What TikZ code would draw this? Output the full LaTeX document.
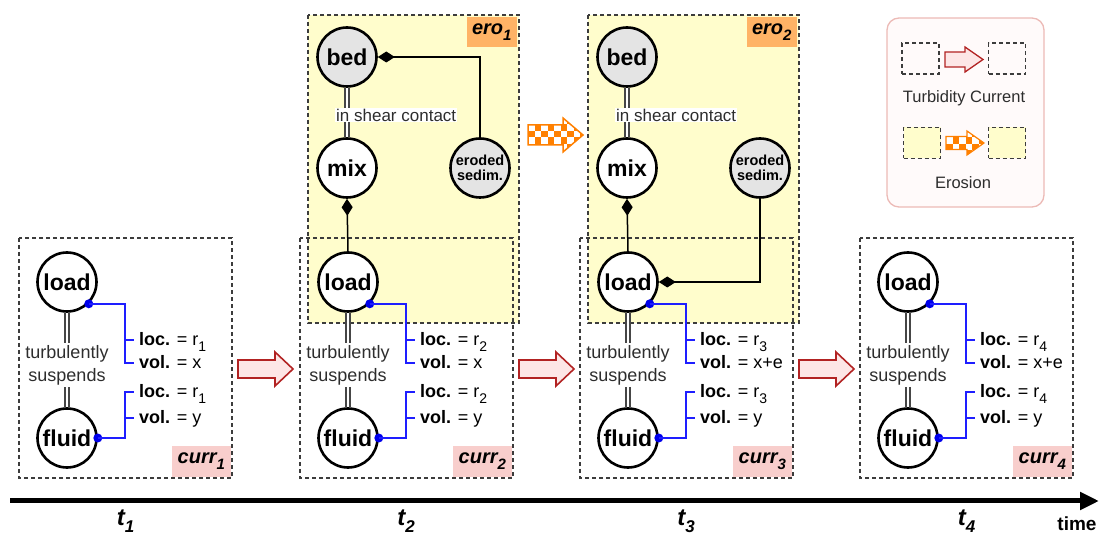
\documentclass[tikz,border=0pt]{standalone}
\usepackage{fontspec}
\setmainfont{Liberation Sans}
\usetikzlibrary{arrows.meta,calc}

\definecolor{erofill}{RGB}{255,253,204}
\definecolor{nodegray}{RGB}{228,228,228}
\definecolor{framegray}{RGB}{60,60,60}
\definecolor{dblgray}{RGB}{70,70,70}
\definecolor{txtgray}{RGB}{45,45,45}
\definecolor{attrblue}{RGB}{30,30,255}
\definecolor{dotblue}{RGB}{0,0,235}
\definecolor{currpink}{RGB}{248,206,204}
\definecolor{eroorange}{RGB}{255,179,102}
\definecolor{arrowred}{RGB}{178,34,34}
\definecolor{arrowpink}{RGB}{253,230,230}
\definecolor{chkorange}{RGB}{255,128,0}
\definecolor{legline}{RGB}{236,186,182}
\definecolor{legfill}{RGB}{255,250,250}

\newcommand\fs[2]{\fontsize{#1}{#2}\selectfont}
\newcommand\sbx[2]{\raisebox{-0.28em}{\fontsize{#1}{#1}\selectfont #2}}
% checkerboard filling for the erosion arrows
\newcommand\checkers{%
  \foreach \ci in {0,...,12}{\foreach \cj in {0,...,7}{%
    \pgfmathtruncatemacro\cpar{mod(\ci+\cj,2)}%
    \ifnum\cpar=0
      \fill[chkorange] ($(path picture bounding box.north west)+(\ci*6.5,\cj*6.5)$) rectangle ++(6.5,6.5);
    \fi}}}

\begin{document}
\begin{tikzpicture}[x=1pt,y=-1pt,
  every node/.style={inner sep=0pt},
  obj/.style={circle, draw=black, line width=2.6pt, minimum size=59pt, fill=white,
              font=\bfseries\fs{23}{24}},
  objg/.style={obj, fill=nodegray},
  sedim/.style={objg, align=center, font=\bfseries\fs{14.5}{15}},
  dbl/.style={draw=dblgray, line width=1.8pt, double=white, double distance=2.5pt},
  rel/.style={font=\fs{18}{23}, text=txtgray, align=center, inner sep=2pt},
  attr/.style={anchor=base west, font=\fs{18}{20}},
  bl/.style={draw=attrblue, line width=1.5pt},
  dot/.style={circle, fill=dotblue, minimum size=9pt},
  frame/.style={draw=framegray, line width=1.4pt, dash pattern=on 4pt off 3pt},
  comp/.style={draw=black, line width=1.5pt},
  currtag/.style={fill=currpink, minimum width=59pt, minimum height=31pt,
                  font=\bfseries\itshape\fs{20}{20}},
  erotag/.style={fill=eroorange, minimum width=50pt, minimum height=30pt,
                 font=\bfseries\itshape\fs{20}{20}},
  redarrow/.style={draw=arrowred, fill=arrowpink, line width=1.6pt, line join=miter},
  chkarrow/.style={draw=chkorange, fill=white, line width=1.5pt, line join=miter,
                   path picture={\checkers}},
  lgbox/.style={frame, minimum width=37pt, minimum height=31pt},
  tlab/.style={font=\bfseries\itshape\fs{24}{24}},
  diam/.style={{Diamond[length=17pt,width=11pt]}-},
  diamend/.style={-{Diamond[length=17pt,width=11pt]}}
]
\useasboundingbox (0,0) rectangle (1101,534);

% erosion areas (yellow background)
\foreach \k/\ex in {1/308,2/588}{
  \fill[erofill] (\ex,15) rectangle ({\ex+211},323);
}

% turbidity current frames
\foreach \i/\bx in {1/19,2/300,3/580,4/860}{
  \node[currtag, anchor=south east] (ct\i) at ({\bx+212},477) {curr\sbx{15}{\i}};
  \draw[frame] (\bx,238) rectangle ({\bx+213},478);
}

% erosion frames
\foreach \k/\ex in {1/308,2/588}{
  \node[erotag, anchor=north east] (et\k) at ({\ex+209},17) {ero\sbx{15}{\k}};
  \draw[frame] (\ex,15) rectangle ({\ex+211},323);
}

% contents of each turbidity current
\foreach \i/\bx/\vv in {1/19/x,2/300/x,3/580/x+e,4/860/x+e}{
  \node[obj] (load\i) at ({\bx+48},282) {load};
  \node[obj] (fluid\i) at ({\bx+48},438) {fluid};
  \node[rel] (ts\i) at ({\bx+48},365) {turbulently\\suspends};
  \draw[dbl] (load\i) -- (ts\i);
  \draw[dbl] (ts\i) -- (fluid\i);
  % load attributes
  \node[dot] (ld\i) at (load\i.-45) {};
  \coordinate (lb\i) at ({\bx+106},363);
  \draw[bl] (ld\i.center) -| (lb\i) -- ++(9,0);
  \draw[bl] ({\bx+106},340) -- ++(9,0);
  \node[attr] (ll\i) at ({\bx+120},346) {\textbf{loc.} = r\sbx{14}{\i}};
  \node[attr] (lv\i) at ({\bx+120},369) {\textbf{vol.} = \vv};
  % fluid attributes
  \node[dot] (fd\i) at (fluid\i.east) {};
  \coordinate (fb\i) at ({\bx+106},392);
  \draw[bl] (fd\i.center) -| (fb\i) -- ++(9,0);
  \draw[bl] ({\bx+106},418) -- ++(9,0);
  \node[attr] (fl\i) at ({\bx+120},398) {\textbf{loc.} = r\sbx{14}{\i}};
  \node[attr] (fv\i) at ({\bx+120},424) {\textbf{vol.} = y};
}

% contents of each erosion
\foreach \k/\ex in {1/308,2/588}{
  \node[objg] (bed\k) at ({\ex+39},57) {bed};
  \node[obj] (mix\k) at ({\ex+39},168) {mix};
  \node[sedim] (es\k) at ({\ex+172},168) {eroded\\sedim.};
  \draw[dbl] (bed\k) -- (mix\k);
  \node[fill=white, anchor=west, font=\fs{17}{18}, text=txtgray, inner sep=1pt]
       (sc\k) at ({\ex+27},115) {in shear contact};
}
\draw[comp, diam] (mix1.south) -- (load2.north);
\draw[comp, diam] (mix2.south) -- (load3.north);
\draw[comp, diam] (bed1.east) -| (es1.north);
\draw[comp, diamend] (es2.south) |- (load3.east);

% transitions between turbidity currents
\foreach \ax in {238,519,799}{
  \draw[redarrow] (\ax,360) -- ({\ax+37},360) -- ({\ax+37},352) -- ({\ax+55},369)
    -- ({\ax+37},386) -- ({\ax+37},378) -- (\ax,378) -- cycle;
}
% transition between erosions
\path[chkarrow] (528,125) -- (563,125) -- (563,118) -- (583,135) -- (563,152)
  -- (563,145) -- (528,145) -- cycle;

% legend
\draw[draw=legline, fill=legfill, line width=1.3pt, rounded corners=12pt]
  (887,18) rectangle (1044,207);
\node[lgbox] (lga) at (920.5,58.5) {};
\node[lgbox] (lgb) at (1007,58.5) {};
\draw[redarrow, line width=1.3pt] (945,52) -- (965,52) -- (965,47) -- (983,59.5)
  -- (965,72) -- (965,67) -- (945,67) -- cycle;
\node[font=\fs{16.5}{18}, text=txtgray] (lgt) at (964,98) {Turbidity Current};
\node[lgbox, fill=erofill] (lgc) at (922,143) {};
\node[lgbox, fill=erofill] (lgd) at (1007,143) {};
\path[chkarrow, line width=1.2pt] (946,136.5) -- (967,136.5) -- (967,131) -- (984,143)
  -- (967,155) -- (967,149.5) -- (946,149.5) -- cycle;
\node[font=\fs{16.5}{18}, text=txtgray] (lge) at (963,183) {Erosion};

% time axis
\coordinate (ax0) at (10,501);
\coordinate (ax1) at (1099,501);
\draw[line width=5pt, -{Triangle[length=19pt,width=17pt]}] (ax0) -- (ax1);
\node[tlab] (t1) at (125.5,521) {t\sbx{17}{1}};
\node[tlab] (t2) at (406,521) {t\sbx{17}{2}};
\node[tlab] (t3) at (686,521) {t\sbx{17}{3}};
\node[tlab] (t4) at (966.5,521) {t\sbx{17}{4}};
\node[font=\bfseries\fs{19}{20}] (tm) at (1077,524) {time};
\end{tikzpicture}
\end{document}
